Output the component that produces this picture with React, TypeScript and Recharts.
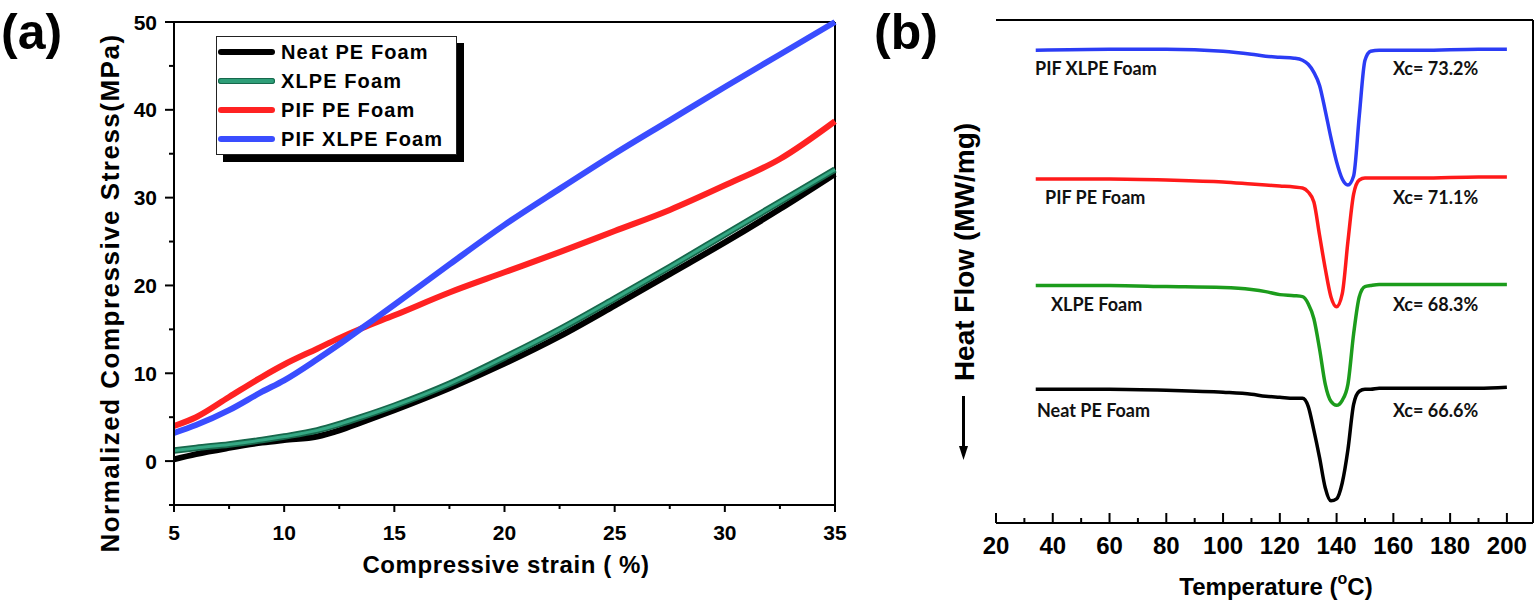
import React from "react";
import { LineChart, Line, XAxis, YAxis, ReferenceLine } from "recharts";

// (a) compressive stress vs strain
const STRAIN = [5, 6, 7.5, 9, 10, 11.5, 12.5, 13.5, 15, 17.5, 20, 22.5, 25, 27.5, 30, 32.5, 35];
const NEAT_PE = [0.2, 0.8, 1.5, 2.1, 2.4, 2.8, 3.5, 4.4, 5.8, 8.3, 11.1, 14.2, 17.7, 21.3, 24.9, 28.7, 32.7];
const XLPE = [1.2, 1.5, 1.9, 2.4, 2.8, 3.5, 4.2, 5.0, 6.3, 8.8, 11.8, 15.0, 18.5, 22.1, 25.8, 29.5, 33.2];
const PIF_PE = [4.0, 5.0, 7.3, 9.6, 11.0, 12.8, 14.0, 15.1, 16.6, 19.2, 21.5, 23.8, 26.2, 28.6, 31.4, 34.4, 38.7];
const PIF_XLPE = [3.2, 4.1, 5.8, 7.9, 9.2, 11.6, 13.3, 15.1, 17.8, 22.4, 26.9, 31.0, 35.0, 38.8, 42.6, 46.3, 50.0];

const STRAIN_TICKS = [5, 7.5, 10, 12.5, 15, 17.5, 20, 22.5, 25, 27.5, 30, 32.5, 35];
const STRESS_TICKS = [-5, 0, 5, 10, 15, 20, 25, 30, 35, 40, 45, 50];

// (b) DSC heat flow vs temperature (curves offset vertically)
const TEMP = [34, 60, 80, 100, 110, 115, 120, 125, 128, 130, 132, 134, 136, 138, 140, 142, 144, 146, 148, 150, 152, 155, 170, 190, 200];
const DSC_PIF_XLPE = [47.0, 47.1, 47.1, 46.9, 46.6, 46.4, 46.3, 46.2, 46.0, 45.6, 44.8, 43.5, 41.0, 38.3, 35.9, 34.2, 33.6, 34.5, 40.5, 46.0, 46.9, 47.0, 47.0, 47.1, 47.1];
const DSC_PIF_PE = [34.2, 34.2, 34.1, 33.9, 33.7, 33.6, 33.5, 33.4, 33.3, 32.9, 31.9, 28.6, 25.3, 22.5, 21.5, 22.8, 28.0, 32.7, 34.1, 34.3, 34.3, 34.3, 34.3, 34.4, 34.4];
const DSC_XLPE = [23.6, 23.6, 23.5, 23.4, 23.2, 23.0, 22.7, 22.6, 22.5, 21.8, 20.3, 17.3, 13.8, 12.1, 11.7, 12.2, 13.8, 18.8, 22.5, 23.5, 23.6, 23.7, 23.7, 23.7, 23.7];
const DSC_NEAT = [13.3, 13.3, 13.2, 13.0, 12.8, 12.6, 12.5, 12.4, 12.4, 11.6, 9.2, 6.5, 3.5, 2.2, 2.4, 4.0, 7.3, 11.8, 13.1, 13.3, 13.3, 13.4, 13.4, 13.4, 13.5];

const TEMP_TICKS = [20, 30, 40, 50, 60, 70, 80, 90, 100, 110, 120, 130, 140, 150, 160, 170, 180, 190, 200];

const FOAMS = ["Neat PE Foam", "XLPE Foam", "PIF PE Foam", "PIF XLPE Foam"];
const FOAM_COLORS = ["#000000", "#2a9a76", "#ff2222", "#3a4dff"];
const DSC_NAMES = ["PIF XLPE Foam", "PIF PE Foam", "XLPE Foam", "Neat PE Foam"];
const XC_LABELS = ["Xc= 73.2%", "Xc= 71.1%", "Xc= 68.3%", "Xc= 66.6%"];

const FONT = '"Liberation Sans", Arial, Helvetica, sans-serif';

const strainData = STRAIN.map((s, i) => ({
  strain: s,
  neat: NEAT_PE[i],
  xlpe: XLPE[i],
  pifPe: PIF_PE[i],
  pifXlpe: PIF_XLPE[i],
}));

const dscData = TEMP.map((t, i) => ({
  temp: t,
  pifXlpe: DSC_PIF_XLPE[i],
  pifPe: DSC_PIF_PE[i],
  xlpe: DSC_XLPE[i],
  neat: DSC_NEAT[i],
}));

function StrainTick({ x, y, payload }: any) {
  const major = payload.value % 5 === 0;
  return (
    <g>
      <line x1={x} x2={x} y1={y} y2={y + (major ? 7 : 4)} stroke="#000" strokeWidth={2} />
      {major && (
        <text x={x} y={y + 35} textAnchor="middle" fontFamily={FONT} fontWeight={700} fontSize={21} fill="#000">
          {payload.value}
        </text>
      )}
    </g>
  );
}

function StressTick({ x, y, payload }: any) {
  const major = payload.value % 10 === 0;
  return (
    <g>
      <line x1={x} x2={x - (major ? 9 : 5)} y1={y} y2={y} stroke="#000" strokeWidth={2} />
      {major && (
        <text x={x - 17} y={y + 7.5} textAnchor="end" fontFamily={FONT} fontWeight={700} fontSize={21} fill="#000">
          {payload.value}
        </text>
      )}
    </g>
  );
}

function TempTick({ x, y, payload }: any) {
  const major = payload.value % 20 === 0;
  return (
    <g>
      <line x1={x} x2={x} y1={y} y2={y - (major ? 10 : 5)} stroke="#000" strokeWidth={2} />
      {major && (
        <text x={x} y={y + 31} textAnchor="middle" fontFamily={FONT} fontWeight={700} fontSize={24} fill="#000">
          {payload.value}
        </text>
      )}
    </g>
  );
}

const abs = (left: number, top: number, extra: React.CSSProperties = {}): React.CSSProperties => ({
  position: "absolute",
  left,
  top,
  fontFamily: FONT,
  fontWeight: 700,
  color: "#000",
  lineHeight: 1,
  whiteSpace: "nowrap",
  ...extra,
});

export default function App() {
  const legendRows = [52, 81, 110, 139];
  const dscRows = [68, 197, 304, 410];
  const dscNameLeft = [1035, 1045, 1051, 1037];
  const dscColors = ["#2b3cf5", "#ff1a1a", "#1c9c1c", "#000000"];
  const dscKeys = ["pifXlpe", "pifPe", "xlpe", "neat"];

  return (
    <div style={{ position: "absolute", left: 0, top: 0, width: 1536, height: 602, background: "#fff", overflow: "hidden" }}>
      {/* panel (a) */}
      <div style={{ position: "absolute", left: 0, top: 0 }}>
        <LineChart width={860} height={602} data={strainData} margin={{ top: 22, right: 25, bottom: 37, left: 114 }}>
          <XAxis
            dataKey="strain"
            type="number"
            domain={[5, 35]}
            ticks={STRAIN_TICKS}
            interval={0}
            height={60}
            tickSize={0}
            tickMargin={0}
            tickLine={false}
            axisLine={{ stroke: "#000", strokeWidth: 2 }}
            tick={<StrainTick />}
          />
          <YAxis
            type="number"
            domain={[-5, 50]}
            ticks={STRESS_TICKS}
            interval={0}
            width={60}
            tickSize={0}
            tickMargin={0}
            tickLine={false}
            axisLine={{ stroke: "#000", strokeWidth: 2 }}
            tick={<StressTick />}
          />
          <ReferenceLine y={50} stroke="#000" strokeWidth={2} />
          <ReferenceLine x={35} stroke="#000" strokeWidth={2} />
          <Line dataKey="neat" type="monotone" stroke={FOAM_COLORS[0]} strokeWidth={6} dot={false} isAnimationActive={false} />
          <Line dataKey="xlpe" type="monotone" stroke="#17684c" strokeWidth={6.5} dot={false} isAnimationActive={false} />
          <Line dataKey="xlpe" type="monotone" stroke="#35a884" strokeWidth={3} dot={false} isAnimationActive={false} />
          <Line dataKey="pifPe" type="monotone" stroke={FOAM_COLORS[2]} strokeWidth={6} dot={false} isAnimationActive={false} />
          <Line dataKey="pifXlpe" type="monotone" stroke={FOAM_COLORS[3]} strokeWidth={6} dot={false} isAnimationActive={false} />
        </LineChart>
      </div>

      <div style={abs(1, 2, { fontSize: 50, lineHeight: 1.2 })}>(a)</div>

      <div style={abs(110, 293, { fontSize: 26, letterSpacing: 1.5, transform: "translate(-50%, -50%) rotate(-90deg)" })}>
        Normalized Compressive Stress(MPa)
      </div>
      <div style={abs(506, 565, { fontSize: 24, letterSpacing: 0.6, transform: "translate(-50%, -50%)" })}>
        Compressive strain ( %)
      </div>

      {/* legend (a) */}
      <div
        style={{
          position: "absolute",
          left: 216,
          top: 36,
          width: 239,
          height: 117,
          border: "1px solid #222",
          background: "#fff",
          boxShadow: "7px 7px 0 #000",
        }}
      />
      {FOAMS.map((name, i) => (
        <React.Fragment key={name}>
          <div
            style={{
              position: "absolute",
              left: 218,
              top: legendRows[i] - 3,
              width: 57,
              height: 6,
              borderRadius: 3,
              background: i === 1 ? "#2e9e78" : FOAM_COLORS[i],
              boxShadow: i === 1 ? "inset 0 0 0 1px #17684c" : undefined,
            }}
          />
          <div style={abs(281, legendRows[i], { fontSize: 20, letterSpacing: 1.1, transform: "translateY(-50%)" })}>{name}</div>
        </React.Fragment>
      ))}

      {/* panel (b) */}
      <div style={{ position: "absolute", left: 940, top: 0 }}>
        <LineChart width={596} height={602} data={dscData} margin={{ top: 20, right: 3, bottom: 29, left: 56 }}>
          <XAxis
            dataKey="temp"
            type="number"
            domain={[20, 209.2]}
            ticks={TEMP_TICKS}
            interval={0}
            height={50}
            tickSize={0}
            tickMargin={0}
            tickLine={false}
            axisLine={{ stroke: "#000", strokeWidth: 2 }}
            tick={<TempTick />}
          />
          <YAxis type="number" domain={[0, 50]} width={0} tick={false} tickLine={false} axisLine={{ stroke: "#000", strokeWidth: 2 }} />
          <ReferenceLine y={50} stroke="#000" strokeWidth={2} />
          <ReferenceLine x={209.2} stroke="#000" strokeWidth={2} />
          {dscKeys.map((k, i) => (
            <Line key={k} dataKey={k} type="monotone" stroke={dscColors[i]} strokeWidth={3.5} dot={false} isAnimationActive={false} />
          ))}
        </LineChart>
      </div>

      <div style={abs(874, 2, { fontSize: 50, lineHeight: 1.2 })}>(b)</div>

      {DSC_NAMES.map((name, i) => (
        <div key={name} style={abs(dscNameLeft[i], dscRows[i], { fontFamily: "Lato, sans-serif", fontSize: 18, color: "#111", transform: "translateY(-50%)" })}>
          {name}
        </div>
      ))}
      {XC_LABELS.map((t, i) => (
        <div key={t} style={abs(1393, dscRows[i], { fontFamily: "Lato, sans-serif", fontSize: 18, color: "#111", transform: "translateY(-50%)" })}>
          {t}
        </div>
      ))}

      <div style={abs(965, 252, { fontSize: 28, transform: "translate(-50%, -50%) rotate(-90deg)" })}>Heat Flow (MW/mg)</div>
      <svg style={{ position: "absolute", left: 950, top: 390 }} width={28} height={75}>
        <line x1={13.5} x2={13.5} y1={6} y2={60} stroke="#000" strokeWidth={3} />
        <polygon points="9,56 18,56 13.5,70" fill="#000" />
      </svg>

      <div style={abs(1276, 585, { fontSize: 24, transform: "translate(-50%, -50%)" })}>
        Temperature (<sup style={{ fontSize: 16, verticalAlign: "0.7em" }}>o</sup>C)
      </div>
    </div>
  );
}
